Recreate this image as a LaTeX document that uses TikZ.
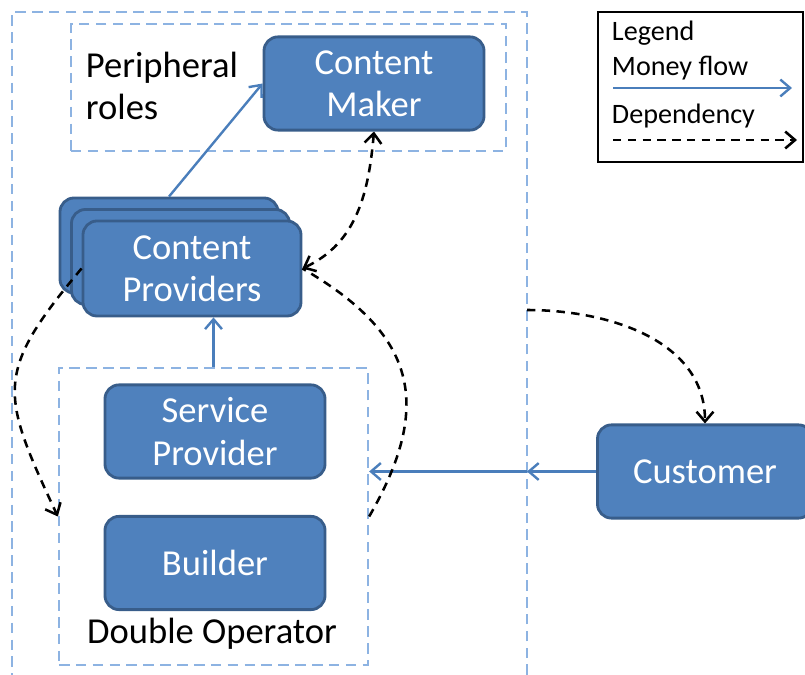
\documentclass[tikz,border=0pt]{standalone}
\usepackage{fontspec}
\setmainfont{Carlito}
\usetikzlibrary{arrows.meta}
\definecolor{roleblue}{HTML}{4F81BD}
\definecolor{roleedge}{HTML}{385D8A}
\definecolor{groupblue}{HTML}{8DB3E2}
\definecolor{flowblue}{HTML}{4A7EBB}
\begin{document}
\begin{tikzpicture}[x=0.025cm, y=-0.025cm,
    >={Straight Barb[length=7pt,width=12pt]},
    role/.style={draw=roleedge, fill=roleblue, line width=2pt, rounded corners=0.35cm,
      text=white, align=center, minimum width=5.5cm, minimum height=2.33cm,
      font=\fontsize{26}{30}\selectfont},
    group/.style={draw=groupblue, line width=1.6pt, dash pattern=on 7.5pt off 4.5pt},
    money/.style={draw=flowblue, line width=1.7pt, ->},
    depend/.style={draw=black, line width=1.8pt, dash pattern=on 6pt off 4.5pt},
    label/.style={font=\fontsize{26}{30}\selectfont, align=left},
    legendtext/.style={font=\fontsize{20}{24}\selectfont, anchor=west}]
  \clip (0,0) rectangle (805,675);
  % outer frame, open at the bottom
  \draw[group] (527,675) -- (527,12) -- (12,12) -- (12,675);
  \coordinate (edgeD) at (527,310);
  \coordinate (edgeR) at (527,471.5);
  % groups
  \node[group, minimum width=10.875cm, minimum height=3.175cm] (periph) at (288.5,87.5) {};
  \node[label, anchor=west] (periphlabel) at (81,86) {Peripheral\\roles};
  \node[group, minimum width=7.725cm, minimum height=7.425cm] (dop) at (213.5,516.5) {};
  \node[label] (doplabel) at (212,634) {Double Operator};
  % roles
  \node[role] (maker) at (374,83.5) {Content\\Maker};
  \node[role, minimum width=5.45cm, minimum height=2.375cm] (provB) at (169,245.5) {};
  \node[role, minimum width=5.45cm, minimum height=2.375cm] (provA) at (180.5,257) {};
  \node[role, minimum width=5.45cm, minimum height=2.375cm] (providers) at (192,268.5) {Content\\Providers};
  \node[role] (sprov) at (215,431.5) {Service\\Provider};
  \node[role] (builder) at (215,563) {Builder};
  \node[role, minimum width=5.375cm] (customer) at (705,471.5) {Customer};
  % money flow
  \draw[money] (provB.north) -- (maker.west);
  \draw[money] (dop.north) -- (providers.south -| dop.north);
  \draw[money] (customer.west) -- (edgeR);
  \draw[money] (edgeR) -- (edgeR -| dop.east);
  % dependencies
  \draw[depend, <->] (maker.south) to[out=-95, in=25] (providers.east);
  \draw[depend] (dop.east) to[out=60, in=-30, looseness=1.3] (providers.east);
  \draw[depend, ->] (providers.west) to[out=-130, in=115, looseness=1.4] (dop.west);
  \draw[depend, ->] (edgeD) to[out=0, in=90] (customer.north);
  % legend
  \node[draw, line width=1pt, minimum width=5.125cm, minimum height=3.75cm] (legend) at (700.5,87) {};
  \node[legendtext] (legtitle) at (607,33) {Legend};
  \node[legendtext] (legmoney) at (607,68) {Money flow};
  \node[legendtext] (legdep) at (607,116) {Dependency};
  \coordinate (m1) at (613,88);
  \coordinate (m2) at (792,88);
  \coordinate (d1) at (613,140);
  \coordinate (d2) at (797,140);
  \draw[money] (m1) -- (m2);
  \draw[depend, ->] (d1) -- (d2);
\end{tikzpicture}
\end{document}
